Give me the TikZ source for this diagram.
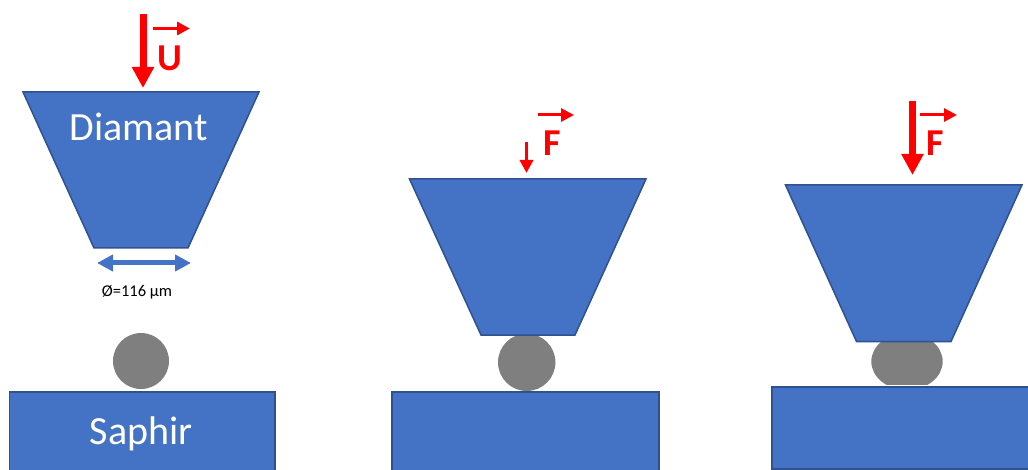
\documentclass[tikz,border=0pt]{standalone}
\usepackage{fontspec}
\setmainfont{Carlito}
\usetikzlibrary{arrows.meta}
\definecolor{bluefill}{HTML}{4472C4}
\definecolor{blueedge}{HTML}{2F528F}
\definecolor{ballgray}{HTML}{7F7F7F}
\tikzset{
  x=1pt,y=-1pt,
  solidpart/.style={fill=bluefill,draw=blueedge,line width=1.5pt,line join=miter},
  ball/.style={fill=ballgray,draw=none},
  bigforce/.style={draw=red,line width=7pt,-{Triangle[length=21pt,width=21pt]}},
  smallforce/.style={draw=red,line width=3.5pt,-{Triangle[length=13pt,width=13pt]}},
  vecarrow/.style={draw=red,line width=3pt,-{Triangle[length=13pt,width=13pt]}},
  dimarrow/.style={draw=bluefill,line width=5pt,{Triangle[length=16pt,width=16pt]}-{Triangle[length=16pt,width=16pt]}},
  whitelabel/.style={text=white,font=\fontsize{40}{40}\selectfont,inner sep=0pt},
  vecletter/.style={text=red,font=\fontsize{38}{38}\selectfont\bfseries,inner sep=0pt},
  dimlabel/.style={text=black,font=\fontsize{16.5}{17}\selectfont,inner sep=0pt}
}
\begin{document}
\begin{tikzpicture}
\useasboundingbox (0,0) rectangle (1028,470);
\path[clip] (0,0) rectangle (1028,470);
% --- panel 1
\fill[ball] (141,361) circle (28);
\draw[solidpart] (23,92) -- (259,92) -- (188,248) -- (94,248) -- cycle;
\draw[solidpart] (9.5,392) -- (275,392) -- (275,475) -- (9.5,475) -- cycle;
\node[whitelabel] (diamant) at (139,127) {Diamant};
\node[whitelabel] (saphir) at (141,434) {Saphir};
\coordinate (u1) at (143,14); \coordinate (u2) at (143,88);
\draw[bigforce] (u1) -- (u2);
\coordinate (uv1) at (153,28.5); \coordinate (uv2) at (190,28.5);
\draw[vecarrow] (uv1) -- (uv2);
\node[vecletter] (uletter) at (170,58) {U};
\coordinate (d1) at (97,263); \coordinate (d2) at (191,263);
\draw[dimarrow] (d1) -- (d2);
\node[dimlabel] (dim) at (137,292.5) {Ø=116 µm};
% --- panel 2
\fill[ball] (526.7,362.3) circle (28.7);
\draw[solidpart] (409.5,179) -- (646,179) -- (575,335) -- (481,335) -- cycle;
\draw[solidpart] (392,392) -- (659,392) -- (659,475) -- (392,475) -- cycle;
\coordinate (f1) at (526.5,142); \coordinate (f2) at (526.5,173);
\draw[smallforce] (f1) -- (f2);
\coordinate (fv1) at (538,115); \coordinate (fv2) at (574,115);
\draw[vecarrow] (fv1) -- (fv2);
\node[vecletter] (fletter) at (552,143) {F};
% --- panel 3
\begin{scope}
\clip (860,341) rectangle (950,384.3);
\fill[ball] (907,361.5) ellipse (35.7 and 28.5);
\end{scope}
\draw[solidpart] (785.5,185) -- (1022,185) -- (951,341.5) -- (856.5,341.5) -- cycle;
\draw[solidpart] (772,387) -- (1032,387) -- (1032,469) -- (772,469) -- cycle;
\coordinate (g1) at (912.5,101); \coordinate (g2) at (912.5,175);
\draw[bigforce] (g1) -- (g2);
\coordinate (gv1) at (920,115); \coordinate (gv2) at (957,115);
\draw[vecarrow] (gv1) -- (gv2);
\node[vecletter] (gletter) at (935,143) {F};
\end{tikzpicture}
\end{document}
